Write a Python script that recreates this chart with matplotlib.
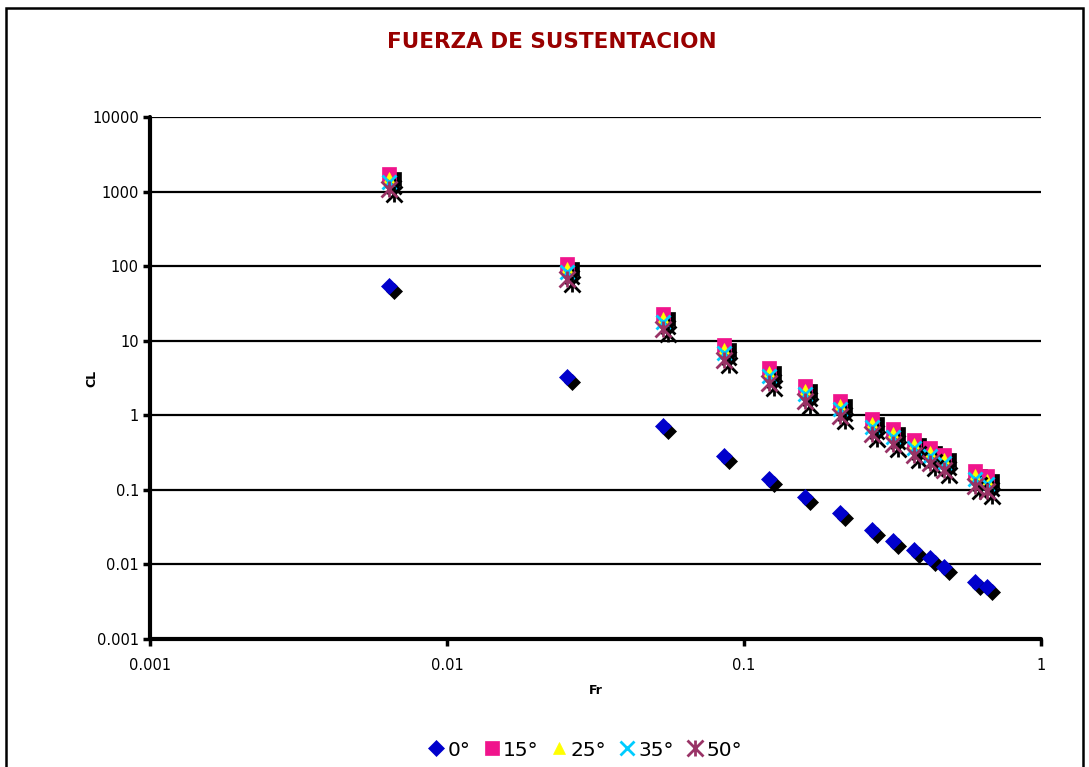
import matplotlib
matplotlib.use("Agg")
import matplotlib.pyplot as plt
from matplotlib.lines import Line2D
from matplotlib.path import Path
from matplotlib.patches import Rectangle
import matplotlib.transforms as mtransforms

plt.rcParams['font.family'] = ['DejaVu Sans']

# Froude number (x) and lift coefficient per angle of attack
fr = [0.00638, 0.0254, 0.0533, 0.0858, 0.121, 0.160, 0.210,
      0.270, 0.318, 0.373, 0.423, 0.471, 0.600, 0.658]

cl_0 = [54, 3.25, 0.72, 0.284, 0.140, 0.080, 0.049,
        0.0286, 0.0206, 0.0156, 0.0122, 0.0092, 0.0058, 0.0050]
cl_15 = [1720, 107, 22.8, 8.75, 4.3, 2.47, 1.55,
         0.89, 0.655, 0.467, 0.364, 0.293, 0.179, 0.153]
cl_25 = [1520, 95, 20.1, 7.7, 3.8, 2.18, 1.37,
         0.79, 0.58, 0.41, 0.32, 0.26, 0.158, 0.135]
cl_35 = [1345, 84, 17.8, 6.8, 3.36, 1.93, 1.21,
         0.70, 0.51, 0.365, 0.284, 0.229, 0.140, 0.120]
cl_50 = [1080, 67, 14.3, 5.5, 2.7, 1.55, 0.97,
         0.56, 0.41, 0.294, 0.229, 0.184, 0.113, 0.096]

labels = ["0°", "15°", "25°", "35°", "50°"]
y_ticks = [0.001, 0.01, 0.1, 1, 10, 100, 1000, 10000]
y_tick_labels = ["0.001", "0.01", "0.1", "1", "10", "100", "1000", "10000"]
x_ticks = [0.001, 0.01, 0.1, 1]
x_tick_labels = ["0.001", "0.01", "0.1", "1"]

# Excel-like "star" marker: an X crossed by a vertical bar
star = Path([(-1, -1), (1, 1), (-1, 1), (1, -1), (0, -1), (0, 1)],
            [Path.MOVETO, Path.LINETO, Path.MOVETO, Path.LINETO,
             Path.MOVETO, Path.LINETO])

styles = [
    dict(marker='D', ms=8.5, color='#0000CC', mew=0.5),
    dict(marker='s', ms=10, color='#F0148C', mew=0.5),
    dict(marker='^', ms=9, color='#FFFF00', mew=0.5),
    dict(marker='x', ms=9.5, color='#00CCFF', mew=2.0),
    dict(marker=star, ms=11.5, color='#993366', mew=2.0),
]
series = [cl_0, cl_15, cl_25, cl_35, cl_50]

fig = plt.figure(figsize=(10.89, 7.67), dpi=100)
ax = fig.add_axes([150 / 1089, 1 - 639 / 767, 891 / 1089, 522 / 767])

ax.set_xscale('log')
ax.set_yscale('log')
ax.set_xlim(0.001, 1)
ax.set_ylim(0.001, 10000)

shadow = mtransforms.offset_copy(ax.transData, fig=fig, x=5, y=-5, units='dots')

for ys, st in zip(series, styles):
    ax.plot(fr, ys, linestyle='none', marker=st['marker'], ms=st['ms'],
            color='black', mfc='black', mec='black', mew=st['mew'],
            transform=shadow, zorder=3, clip_on=False)
    ax.plot(fr, ys, linestyle='none', marker=st['marker'], ms=st['ms'],
            color=st['color'], mfc=st['color'], mec=st['color'], mew=st['mew'],
            zorder=3, clip_on=False)

# horizontal gridlines at every decade
for yv in y_ticks[1:]:
    ax.axhline(yv, color='black', lw=1.6, zorder=1)

ax.minorticks_off()
ax.set_yticks(y_ticks)
ax.set_yticklabels(y_tick_labels)
ax.set_xticks(x_ticks)
ax.set_xticklabels(x_tick_labels)
ax.tick_params(axis='both', which='major', direction='out', length=5,
               width=2.5, labelsize=10.5, color='black')
ax.tick_params(axis='y', pad=3)
ax.tick_params(axis='x', pad=9)

for side in ['top', 'right']:
    ax.spines[side].set_visible(False)
for side in ['left', 'bottom']:
    ax.spines[side].set_linewidth(3)
    ax.spines[side].set_capstyle('round')

ax.set_xlabel("Fr", fontsize=9, fontweight='bold')
ax.xaxis.set_label_coords(0.5, -(684 - 639) / 522)
ax.set_ylabel("CL", fontsize=9, fontweight='bold')
ax.yaxis.set_label_coords(-(150 - 98) / 891, 0.5)

fig.text(552 / 1089, 1 - 42 / 767, "FUERZA DE SUSTENTACION",
         ha='center', va='center', fontsize=15.5, fontweight='bold',
         color='#990000')

handles = [Line2D([], [], linestyle='none', marker=st['marker'], ms=st['ms'],
                  color=st['color'], mfc=st['color'], mec=st['color'],
                  mew=st['mew']) for st in styles]
fig.legend(handles, labels, loc='center', bbox_to_anchor=(585 / 1089, 1 - 750 / 767),
           ncol=5, frameon=False, fontsize=14.5, handlelength=0.8,
           handletextpad=0.15, columnspacing=0.65)

# outer chart frame
fig.patches.append(Rectangle((6 / 1089, -0.05), 1077 / 1089, 1.05 - 8 / 767,
                             transform=fig.transFigure, fill=False,
                             edgecolor='black', lw=1.8))

fig.savefig("out.png", dpi=100)
